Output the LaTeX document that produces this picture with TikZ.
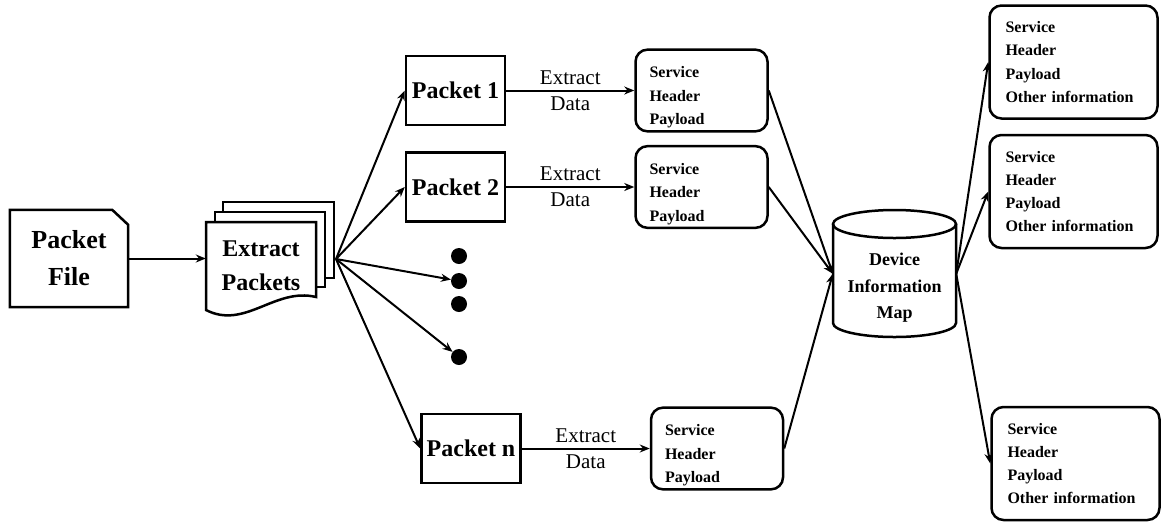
\documentclass[tikz,border=0pt]{standalone}
\usepackage{fontspec}
\setmainfont{Liberation Serif}
\usepackage{tikz}
\usetikzlibrary{calc,positioning,arrows.meta}

\tikzstyle{packet}     = [rectangle, minimum width=99pt, minimum height=69pt, draw=black, line width=2.5pt, font=\fontsize{24}{28}\selectfont\bfseries]
\tikzstyle{fields}     = [rectangle, rounded corners=12pt, draw=black, line width=2.5pt, align=left, inner xsep=14pt, text width=104pt, minimum height=81pt, font=\fontsize{16}{23.3}\selectfont\bfseries]
\tikzstyle{fullfields} = [fields, inner xsep=16pt, text width=136pt, minimum height=113pt]
\tikzstyle{bullet}     = [circle, fill=black, minimum size=16pt, inner sep=0pt]
\tikzstyle{sheet}      = [draw=black, fill=white, line width=2.5pt]
\tikzstyle{datatext}   = [align=center, font=\fontsize{21}{26}\selectfont]
\tikzstyle{arrow}      = [line width=2pt, -{Stealth[length=10pt,width=8pt]}]
\newcommand{\padtop}{\rule{0pt}{25pt}}

\begin{document}
\begin{tikzpicture}[x=1pt, y=-1pt]
        \useasboundingbox (0,0) rectangle (1161,523);

        % packet file
        \node (file) [align=center, font=\fontsize{26}{37}\selectfont\bfseries, minimum width=118pt, minimum height=97pt] at (69,258.5) {Packet\\File};
        \draw [line width=2.5pt] (file.south west) -- (file.north west) -- ($(file.north east)+(-16,0)$) -- ($(file.north east)+(0,15)$) -- (file.south east) -- cycle;

        % stack of packets
        \draw [sheet] (223,202) rectangle (334,278);
        \draw [sheet] (215,212) rectangle (325,287);
        \draw [sheet] (206,310) -- (206,222) -- (316,222) -- (316,297) .. controls (275,287) and (245,330) .. (206,310) -- cycle;
        \node (stack) [align=center, font=\fontsize{24}{34}\selectfont\bfseries, minimum width=110pt, minimum height=88pt] at (261,266) {Extract\\Packets};
        \coordinate (fan) at (336,259);

        \node (pkt1) [packet] at (455.5,90.5) {Packet 1};
        \node (pkt2) [packet] at (455.5,187) {Packet 2};
        \node (pktn) [packet] at (471,448.5) {Packet n};
        \foreach \y [count=\i] in {256,281,304,357}
            \node (dot\i) [bullet] at (459,\y) {};

        \node (svc1) [fields, right=128pt of pkt1] {\padtop Service\\Header\\Payload};
        \node (svc2) [fields, right=128pt of pkt2] {\padtop Service\\Header\\Payload};
        \node (svcn) [fields, right=128pt of pktn] {\padtop Service\\Header\\Payload};

        % device information map
        \node (map) [align=center, font=\fontsize{18}{26.5}\selectfont\bfseries, minimum width=123pt, minimum height=98pt] at (894.5,288) {Device\\Information\\Map};
        \draw [line width=2.5pt] (894.5,224) ellipse [x radius=61.5pt, y radius=14pt];
        \draw [line width=2.5pt] (833,224) -- (833,323) arc [start angle=180, end angle=360, x radius=61.5pt, y radius=14pt] -- (956,224);

        \node (outA) [fullfields] at (1073.5,62) {Service\\Header\\Payload\\Other information};
        \node (outB) [fullfields] at (1073.5,191.5) {Service\\Header\\Payload\\Other information};
        \node (outC) [fullfields] at (1075.5,463.5) {Service\\Header\\Payload\\Other information};

        \draw [arrow] (file.east) -- (file.east -| stack.west);
        \draw [arrow] (fan) -- (pkt1.west);
        \draw [arrow] (fan) -- (pkt2.west);
        \draw [arrow] (fan) -- (dot2);
        \draw [arrow] (fan) -- (dot4);
        \draw [arrow] (fan) -- (pktn.west);
        \draw [arrow] (pkt1) -- node (ext1) [datatext] {Extract\\Data} (svc1);
        \draw [arrow] (pkt2) -- node (ext2) [datatext] {Extract\\Data} (svc2);
        \draw [arrow] (pktn) -- node (extn) [datatext] {Extract\\Data} (svcn);
        \draw [arrow] (svc1.east) -- (map.167);
        \draw [arrow] (svc2.east) -- (map.167);
        \draw [arrow] (svcn.east) -- (map.167);
        \draw [arrow] (map.13) -- (outA.west);
        \draw [arrow] (map.13) -- (outB.west);
        \draw [arrow] (map.13) -- (outC.west);
    \end{tikzpicture}
\end{document}
